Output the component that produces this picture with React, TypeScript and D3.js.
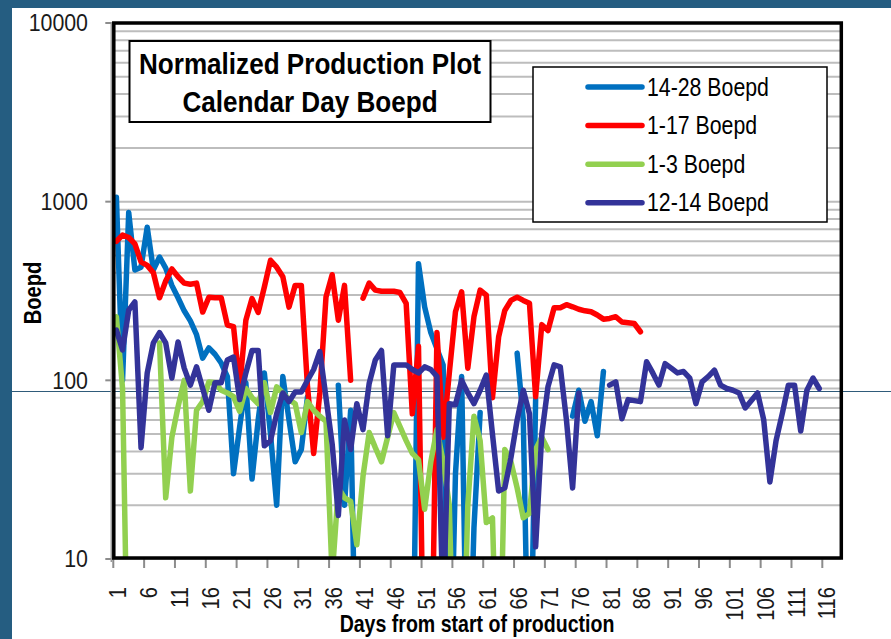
import * as d3 from 'd3';
import { useEffect, useRef } from 'react';

// Categories: days from start of production
const days = d3.range(1, 119);
const tickDays = d3.range(1, 117, 5);
const yTicks = [10, 100, 1000, 10000];

// Boepd per day (null = no data)
const boepd1428: (number | null)[] = [
  1060, 100, 870, 415, 430, 720, 415, 490, 425, 340,
  290, 245, 215, 180, 133, 152, 140, 125, 105, 30,
  55, 97, 28, 60, 110, 50, 20, 105, 60, 35,
  41, 81, null, null, null, null, 94, 20, 68, 1,
  null, null, null, null, null, null, null, null, 1, 450,
  258, 185, 150, 122, 1, 30, 105, 1, 15, 66,
  null, null, null, null, null, 142, 60, 1, 78, null,
  null, null, null, null, 63, 88, 59, 76, 49, 112,
];

const boepd117: (number | null)[] = [
  600, 650, 630, 580, 460, 440, 400, 290, 360, 420,
  380, 350, 345, 350, 241, 292, 290, 290, 204, 200,
  92, 217, 287, 240, 333, 470, 430, 380, 257, 340,
  340, 92, 39, 85, 293, 390, 217, 340, 100, null,
  288, 350, 320, 315, 315, 315, 310, 270, 65, 155,
  1, 1, 185, 48, 110, 242, 313, 117, 227, 320,
  300, 80, 175, 246, 280, 292, 280, 270, 81, 205,
  190, 255, 255, 265, 258, 250, 245, 242, 232, 220,
  222, 227, 212, 210, 208, 187,
];

const boepd13: (number | null)[] = [
  227, 90, 1, null, null, null, null, 162, 22, 48,
  71, 100, 24, 68, 76, 98, 97, 88, 85, 81,
  67, 90, 80, 74, 97, 66, 92, 85, 78, 74,
  51, 76, 68, 63, 59, 8, 25, 22, 21, 12,
  29, 51, 42, 35, 48, 66, 55, 46, 39, 36,
  19, 35, 53, 35, 20, 1, 1, 20, 63, 46,
  16, 17, 1, 41, 35, 25, 17, 18, 41, 48,
  41,
];

const boepd1214: (number | null)[] = [
  191, 148, 247, 275, 42, 110, 162, 185, 162, 103,
  164, 117, 94, 119, 90, 68, 97, 97, 130, 135,
  78, 110, 147, 147, 43, 46, 65, 85, 76, 86,
  86, 100, 115, 145, 80, 44, 17.5, 60, 41, 74,
  53, 96, 130, 147, 49, 122, 122, 122, 115, 110,
  119, 115, 105, 5, 74, 73, 100, 85, 74, 88,
  107, 50, 24, 25, 37, 60, 88, 65, 11.7, 50,
  92, 122, 119, 60, 25, 85, null, null, null, null,
  94, 98, 61, 78, 77, 76, 127, 110, 94, 124,
  117, 110, 112, 103, 74, 98, 105, 114, 94, 90,
  88, 85, 70, 77, 85, 60, 27, 46, 65, 94,
  94, 52, 88, 103, 90,
];

const seriesNames = ['14-28 Boepd', '1-17 Boepd', '1-3 Boepd', '12-14 Boepd'];
const seriesColors = ['#0070C0', '#FF0000', '#92D050', '#333399'];
const seriesValues = [boepd1428, boepd117, boepd13, boepd1214];

const FONT = "'Liberation Sans', Arial, sans-serif";

export default function App() {
  const chartRef = useRef<SVGSVGElement | null>(null);

  const width = 891;
  const height = 639;
  const plot = { left: 113.3, right: 840.8, top: 23, bottom: 559 };

  useEffect(() => {
    const svg = d3.select(chartRef.current);
    svg.selectAll('*').remove();

    // narrow-looking text: squeeze Liberation Sans along its run
    const addText = (
      parent: any,
      x: number,
      y: number,
      txt: string,
      size: number,
      opts: { anchor?: string; bold?: boolean; sx?: number; rotate?: number; dy?: string } = {},
    ) =>
      parent
        .append('text')
        .attr(
          'transform',
          `translate(${x}, ${y})${opts.rotate ? ` rotate(${opts.rotate})` : ''} scale(${opts.sx ?? 1}, 1)`,
        )
        .attr('dy', opts.dy ?? null)
        .attr('text-anchor', opts.anchor ?? 'start')
        .style('font-family', FONT)
        .style('font-size', `${size}px`)
        .style('font-weight', opts.bold ? 'bold' : 'normal')
        .attr('fill', '#000000')
        .text(txt);

    const xScale = d3
      .scaleBand<number>()
      .domain(days)
      .range([plot.left, plot.right])
      .padding(0);
    const yScale = d3
      .scaleLog()
      .domain([10, 10000])
      .range([plot.bottom, plot.top]);
    const cx = (d: number) => (xScale(d) as number) + xScale.bandwidth() / 2;

    // page background frame
    svg.append('rect').attr('width', width).attr('height', height).attr('fill', '#ffffff');
    svg.append('rect').attr('width', 12).attr('height', height).attr('fill', '#255d81');
    svg.append('rect').attr('width', width).attr('height', 8).attr('fill', '#255d81');

    // minor + major gridlines
    const gridValues: number[] = [];
    [10, 100, 1000].forEach((dec) => {
      for (let m = 1; m < 10; m++) gridValues.push(dec * m);
    });
    gridValues.push(10000);
    svg
      .append('g')
      .selectAll('line')
      .data(gridValues)
      .enter()
      .append('line')
      .attr('x1', plot.left)
      .attr('x2', plot.right)
      .attr('y1', (d) => yScale(d))
      .attr('y2', (d) => yScale(d))
      .attr('stroke', '#bdbdbd')
      .attr('stroke-width', 2);

    // y axis ticks and labels
    const yAxisG = svg.append('g');
    yAxisG
      .selectAll('line')
      .data(yTicks)
      .enter()
      .append('line')
      .attr('x1', plot.left - 8)
      .attr('x2', plot.left)
      .attr('y1', (d) => yScale(d))
      .attr('y2', (d) => yScale(d))
      .attr('stroke', '#8c8c8c')
      .attr('stroke-width', 2);
    yTicks.forEach((t) => {
      addText(yAxisG, 88, yScale(t), String(t), 24, { anchor: 'end', sx: 0.89, dy: '0.35em' }).attr(
        'fill',
        '#1a1a1a',
      );
    });

    // x axis ticks and labels
    const xAxisG = svg.append('g');
    xAxisG
      .selectAll('line')
      .data(tickDays)
      .enter()
      .append('line')
      .attr('x1', (d) => xScale(d) as number)
      .attr('x2', (d) => xScale(d) as number)
      .attr('y1', plot.bottom)
      .attr('y2', plot.bottom + 9)
      .attr('stroke', '#8c8c8c')
      .attr('stroke-width', 2);
    tickDays.forEach((d) => {
      addText(xAxisG, cx(d) + 10, 587, String(d), 23, { anchor: 'end', rotate: -90, sx: 0.88 }).attr(
        'fill',
        '#1a1a1a',
      );
    });

    // stray slide line across the picture
    svg
      .append('line')
      .attr('x1', 12)
      .attr('x2', width)
      .attr('y1', 391.5)
      .attr('y2', 391.5)
      .attr('stroke', '#2f5b7a')
      .attr('stroke-width', 1);

    // series lines
    svg
      .append('clipPath')
      .attr('id', 'plotClip')
      .append('rect')
      .attr('x', plot.left)
      .attr('y', plot.top)
      .attr('width', plot.right - plot.left)
      .attr('height', plot.bottom - plot.top);

    const line = d3
      .line<number | null>()
      .defined((d) => d != null)
      .x((d, i) => cx(days[i]))
      .y((d) => yScale(d as number));

    svg
      .append('g')
      .attr('clip-path', 'url(#plotClip)')
      .selectAll('path')
      .data(seriesValues)
      .enter()
      .append('path')
      .attr('d', (d) => line(d))
      .attr('fill', 'none')
      .attr('stroke', (d, i) => seriesColors[i])
      .attr('stroke-width', 5.5)
      .attr('stroke-linejoin', 'round')
      .attr('stroke-linecap', 'round');

    // plot frame
    svg
      .append('line')
      .attr('x1', plot.left - 2)
      .attr('x2', plot.left - 2)
      .attr('y1', plot.top - 1)
      .attr('y2', plot.bottom + 3)
      .attr('stroke', '#9a9a9a')
      .attr('stroke-width', 1.5);
    svg
      .append('rect')
      .attr('x', plot.left + 0.5)
      .attr('y', plot.top)
      .attr('width', plot.right - plot.left)
      .attr('height', plot.bottom - plot.top - 1)
      .attr('fill', 'none')
      .attr('stroke', '#000000')
      .attr('stroke-width', 3.5);

    // title box
    const titleG = svg.append('g');
    titleG
      .append('rect')
      .attr('x', 129.5)
      .attr('y', 41)
      .attr('width', 361)
      .attr('height', 81)
      .attr('fill', '#ffffff')
      .attr('stroke', '#000000')
      .attr('stroke-width', 2);
    ['Normalized Production Plot', 'Calendar Day Boepd'].forEach((t, i) => {
      addText(titleG, 310, 74 + i * 37.7, t, 29, { anchor: 'middle', bold: true, sx: 0.9 });
    });

    // legend
    const legendG = svg.append('g');
    legendG
      .append('rect')
      .attr('x', 533)
      .attr('y', 67)
      .attr('width', 294)
      .attr('height', 155)
      .attr('fill', '#ffffff')
      .attr('stroke', '#000000')
      .attr('stroke-width', 1.5);
    seriesNames.forEach((name, i) => {
      const yy = 87 + i * 38.6;
      legendG
        .append('line')
        .attr('x1', 588)
        .attr('x2', 642)
        .attr('y1', yy)
        .attr('y2', yy)
        .attr('stroke', seriesColors[i])
        .attr('stroke-width', 5.5)
        .attr('stroke-linecap', 'round');
      addText(legendG, 647, yy + 8.5, name, 25.5, { sx: 0.835 });
    });

    // axis titles
    addText(svg, 41, 293, 'Boepd', 24, { anchor: 'middle', bold: true, rotate: -90, sx: 0.84 });
    addText(svg, 477, 632, 'Days from start of production', 24, { anchor: 'middle', bold: true, sx: 0.815 });
  }, []);

  return (
    <svg
      ref={chartRef}
      width={width}
      height={height}
      style={{ position: 'absolute', left: 0, top: 0, display: 'block' }}
    />
  );
}
